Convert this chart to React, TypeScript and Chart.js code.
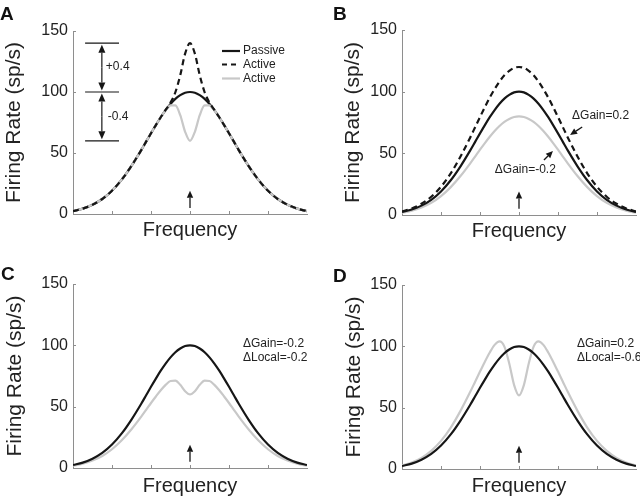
import React, { useEffect, useRef } from "react";
import { Chart, registerables } from "chart.js";
Chart.register(...registerables);

// Frequency sample positions (arbitrary units, best frequency at 3)
const FREQ = [0, 0.25, 0.5, 0.75, 1, 1.25, 1.5, 1.75, 1.875, 2, 2.125, 2.25, 2.375, 2.5, 2.625, 2.75, 2.875, 3,
  3.125, 3.25, 3.375, 3.5, 3.625, 3.75, 3.875, 4, 4.125, 4.25, 4.5, 4.75, 5, 5.25, 5.5, 5.75, 6];

// Passive tuning curve (all panels)
const PASSIVE = [2.4, 4.4, 7.6, 12.3, 19.1, 28.2, 39.5, 52.4, 59.3, 66.2, 72.9, 79.3, 85.1, 90.2, 94.4, 97.4, 99.4, 100,
  99.4, 97.4, 94.4, 90.2, 85.1, 79.3, 72.9, 66.2, 59.3, 52.4, 39.5, 28.2, 19.1, 12.3, 7.6, 4.4, 2.4];
// Panel A
const A_ACTIVE_UP = [2.4, 4.4, 7.6, 12.3, 19.1, 28.2, 39.5, 52.4, 59.3, 66.2, 72.9, 79.3, 85.3, 91.3, 99.8, 113.8, 131.4, 140,
  131.4, 113.8, 99.8, 91.3, 85.3, 79.3, 72.9, 66.2, 59.3, 52.4, 39.5, 28.2, 19.1, 12.3, 7.6, 4.4, 2.4];
const A_ACTIVE_DOWN = [2.4, 4.4, 7.6, 12.3, 19.1, 28.2, 39.5, 52.4, 59.3, 66.2, 72.9, 79.3, 85.0, 89.1, 89.0, 81.0, 67.4, 60,
  67.4, 81.0, 89.0, 89.1, 85.0, 79.3, 72.9, 66.2, 59.3, 52.4, 39.5, 28.2, 19.1, 12.3, 7.6, 4.4, 2.4];
// Panel B
const B_GAIN_UP = [2.9, 5.3, 9.1, 14.8, 22.9, 33.8, 47.4, 62.9, 71.2, 79.4, 87.5, 95.2, 102.1, 108.2, 113.3, 116.9, 119.3, 120,
  119.3, 116.9, 113.3, 108.2, 102.1, 95.2, 87.5, 79.4, 71.2, 62.9, 47.4, 33.8, 22.9, 14.8, 9.1, 5.3, 2.9];
const B_GAIN_DOWN = [1.9, 3.5, 6.1, 9.8, 15.3, 22.6, 31.6, 41.9, 47.4, 53.0, 58.3, 63.4, 68.1, 72.2, 75.5, 77.9, 79.5, 80,
  79.5, 77.9, 75.5, 72.2, 68.1, 63.4, 58.3, 53.0, 47.4, 41.9, 31.6, 22.6, 15.3, 9.8, 6.1, 3.5, 1.9];
// Panel C
const C_ACTIVE = [1.9, 3.5, 6.1, 9.8, 15.3, 22.6, 31.6, 41.9, 47.4, 53.0, 58.3, 63.4, 67.8, 70.9, 71.2, 67.8, 62.6, 60,
  62.6, 67.8, 71.2, 70.9, 67.8, 63.4, 58.3, 53.0, 47.4, 41.9, 31.6, 22.6, 15.3, 9.8, 6.1, 3.5, 1.9];
// Panel D
const D_ACTIVE = [2.9, 5.3, 9.1, 14.8, 22.9, 33.8, 47.4, 62.9, 71.2, 79.4, 87.5, 95.0, 101.2, 104.0, 99.8, 86.0, 68.4, 60,
  68.4, 86.0, 99.8, 104.0, 101.2, 95.0, 87.5, 79.4, 71.2, 62.9, 47.4, 33.8, 22.9, 14.8, 9.1, 5.3, 2.9];

const Y_TICKS = [0, 50, 100, 150];
const X_TICKS = [1, 2, 3, 4, 5];
const Y_TITLE = "Firing Rate (sp/s)";
const X_TITLE = "Frequency";
const LEGEND_A = ["Passive", "Active", "Active"];
const ANNOT_B = ["\u0394Gain=0.2", "\u0394Gain=-0.2"];
const ANNOT_C = ["\u0394Gain=-0.2", "\u0394Local=-0.2"];
const ANNOT_D = ["\u0394Gain=0.2", "\u0394Local=-0.6"];
const A_LEVELS = [140, 100, 60];
const A_LEVEL_LABELS = ["+0.4", "-0.4"];

const FONT = '"Liberation Sans", Arial, Helvetica, sans-serif';
const BLACK = "#161616";
const GRAY = "#c8c8c8";
const AXIS = "#8e8e8e";
const TEXT = "#222222";

type Series = { data: number[]; color: string; dash?: number[]; order: number };

function drawArrow(ctx: CanvasRenderingContext2D, x1: number, y1: number, x2: number, y2: number, hl = 7, hw = 3) {
  const ang = Math.atan2(y2 - y1, x2 - x1);
  const bx = x2 - hl * Math.cos(ang);
  const by = y2 - hl * Math.sin(ang);
  ctx.beginPath();
  ctx.moveTo(x1, y1);
  ctx.lineTo(bx, by);
  ctx.stroke();
  ctx.beginPath();
  ctx.moveTo(x2, y2);
  ctx.lineTo(bx + hw * Math.sin(ang), by - hw * Math.cos(ang));
  ctx.lineTo(bx - hw * Math.sin(ang), by + hw * Math.cos(ang));
  ctx.closePath();
  ctx.fill();
}

interface PanelCfg {
  key: string;
  left: number;
  top: number;
  padTop: number;
  padRight: number;
  yWidth: number;
  xHeight: number;
  yTitlePad: number;
  xTitlePad: number;
  letter: string;
  letterX: number;
  letterY: number;
  series: Series[];
  deco: (ctx: CanvasRenderingContext2D, X: (v: number) => number, Y: (v: number) => number) => void;
}

const centerArrow = (ctx: CanvasRenderingContext2D, X: (v: number) => number, Y: (v: number) => number) => {
  ctx.strokeStyle = BLACK;
  ctx.fillStyle = BLACK;
  ctx.lineWidth = 1.3;
  drawArrow(ctx, X(3), Y(5), X(3), Y(19), 7, 3.2);
};

const PANELS: PanelCfg[] = [
  {
    key: "A", left: 0, top: 0, padTop: 31, padRight: 13, yWidth: 73, xHeight: 35, yTitlePad: 2, xTitlePad: 7,
    letter: "A", letterX: 0, letterY: 20,
    series: [
      { data: PASSIVE, color: BLACK, order: 3 },
      { data: A_ACTIVE_UP, color: BLACK, dash: [6, 4], order: 1 },
      { data: A_ACTIVE_DOWN, color: GRAY, order: 2 },
    ],
    deco: (ctx, X, Y) => {
      centerArrow(ctx, X, Y);
      ctx.strokeStyle = BLACK;
      ctx.fillStyle = BLACK;
      ctx.lineWidth = 1.2;
      A_LEVELS.forEach((lv) => {
        ctx.beginPath();
        ctx.moveTo(X(0.31), Y(lv));
        ctx.lineTo(X(1.18), Y(lv));
        ctx.stroke();
      });
      const ax = X(0.74);
      for (let i = 0; i < 2; i++) {
        const yTop = Y(A_LEVELS[i]) + 1.5;
        const yBot = Y(A_LEVELS[i + 1]) - 1.5;
        const mid = (yTop + yBot) / 2;
        drawArrow(ctx, ax, mid, ax, yTop, 8, 3.5);
        drawArrow(ctx, ax, mid, ax, yBot, 8, 3.5);
      }
      ctx.font = `12px ${FONT}`;
      ctx.fillStyle = TEXT;
      ctx.textAlign = "left";
      ctx.textBaseline = "middle";
      ctx.fillText(A_LEVEL_LABELS[0], ax + 4, Y(121));
      ctx.fillText(A_LEVEL_LABELS[1], ax + 6, Y(79.5));
      // legend
      const rows = [51, 64.5, 78.5];
      const styles = [
        { c: BLACK, d: [] as number[] },
        { c: BLACK, d: [5, 4] },
        { c: GRAY, d: [] as number[] },
      ];
      rows.forEach((ry, i) => {
        ctx.strokeStyle = styles[i].c;
        ctx.lineWidth = 2.2;
        ctx.setLineDash(styles[i].d);
        ctx.beginPath();
        ctx.moveTo(222, ry);
        ctx.lineTo(240, ry);
        ctx.stroke();
        ctx.setLineDash([]);
        ctx.fillStyle = TEXT;
        ctx.fillText(LEGEND_A[i], 243, ry);
      });
    },
  },
  {
    key: "B", left: 320, top: 0, padTop: 30, padRight: 4, yWidth: 82, xHeight: 34, yTitlePad: 21, xTitlePad: 6,
    letter: "B", letterX: 13, letterY: 20,
    series: [
      { data: PASSIVE, color: BLACK, order: 2 },
      { data: B_GAIN_UP, color: BLACK, dash: [6, 4], order: 1 },
      { data: B_GAIN_DOWN, color: GRAY, order: 3 },
    ],
    deco: (ctx, X, Y) => {
      centerArrow(ctx, X, Y);
      ctx.lineWidth = 1.3;
      drawArrow(ctx, X(4.62), Y(71.4), X(4.31), Y(64.9), 7, 3.2);
      drawArrow(ctx, X(3.64), Y(44.6), X(3.87), Y(51.9), 7, 3.2);
      ctx.font = `12px ${FONT}`;
      ctx.fillStyle = TEXT;
      ctx.textAlign = "left";
      ctx.textBaseline = "middle";
      ctx.fillText(ANNOT_B[0], X(4.36), Y(80.3));
      ctx.fillText(ANNOT_B[1], X(2.38), Y(36.5));
    },
  },
  {
    key: "C", left: 0, top: 249, padTop: 35, padRight: 13, yWidth: 73, xHeight: 30, yTitlePad: 3, xTitlePad: 0,
    letter: "C", letterX: 1, letterY: 31,
    series: [
      { data: PASSIVE, color: BLACK, order: 1 },
      { data: C_ACTIVE, color: GRAY, order: 2 },
    ],
    deco: (ctx, X, Y) => {
      centerArrow(ctx, X, Y);
      ctx.font = `12px ${FONT}`;
      ctx.fillStyle = TEXT;
      ctx.textAlign = "left";
      ctx.textBaseline = "middle";
      ctx.fillText(ANNOT_C[0], 243, 95);
      ctx.fillText(ANNOT_C[1], 243, 109);
    },
  },
  {
    key: "D", left: 320, top: 249, padTop: 36, padRight: 4, yWidth: 82, xHeight: 29, yTitlePad: 22, xTitlePad: 0,
    letter: "D", letterX: 13, letterY: 33,
    series: [
      { data: PASSIVE, color: BLACK, order: 1 },
      { data: D_ACTIVE, color: GRAY, order: 2 },
    ],
    deco: (ctx, X, Y) => {
      centerArrow(ctx, X, Y);
      ctx.font = `12px ${FONT}`;
      ctx.fillStyle = TEXT;
      ctx.textAlign = "left";
      ctx.textBaseline = "middle";
      ctx.fillText(ANNOT_D[0], 257, 95);
      ctx.fillText(ANNOT_D[1], 257, 109);
    },
  },
];

function Panel({ cfg }: { cfg: PanelCfg }) {
  const ref = useRef<HTMLCanvasElement | null>(null);
  useEffect(() => {
    if (!ref.current) return;
    const decoPlugin = {
      id: "deco" + cfg.key,
      afterDraw(chart: any) {
        const ctx: CanvasRenderingContext2D = chart.ctx;
        const xs = chart.scales.x;
        const ys = chart.scales.y;
        const X = (v: number) => xs.getPixelForValue(v);
        const Y = (v: number) => ys.getPixelForValue(v);
        const area = chart.chartArea;
        ctx.save();
        // inward tick marks
        ctx.strokeStyle = AXIS;
        ctx.lineWidth = 1;
        X_TICKS.forEach((v) => {
          const px = Math.round(X(v)) + 0.5;
          ctx.beginPath();
          ctx.moveTo(px, area.bottom);
          ctx.lineTo(px, area.bottom - 3);
          ctx.stroke();
        });
        Y_TICKS.forEach((v) => {
          const py = Math.round(Y(v)) + 0.5;
          ctx.beginPath();
          ctx.moveTo(area.left, py);
          ctx.lineTo(area.left + 3, py);
          ctx.stroke();
        });
        // panel letter
        ctx.fillStyle = "#111";
        ctx.font = `bold 19px ${FONT}`;
        ctx.textAlign = "left";
        ctx.textBaseline = "alphabetic";
        ctx.fillText(cfg.letter, cfg.letterX, cfg.letterY);
        cfg.deco(ctx, X, Y);
        ctx.restore();
      },
    };
    const chart = new Chart(ref.current, {
      type: "line",
      data: {
        datasets: cfg.series.map((s) => ({
          data: FREQ.map((f, i) => ({ x: f, y: s.data[i] })),
          borderColor: s.color,
          borderWidth: 2.2,
          borderDash: s.dash || [],
          pointRadius: 0,
          fill: false,
          cubicInterpolationMode: "monotone" as const,
          order: s.order,
        })),
      },
      options: {
        animation: false,
        responsive: false,
        devicePixelRatio: 1,
        events: [],
        layout: { padding: { top: cfg.padTop, right: cfg.padRight, left: 0, bottom: 0 } },
        plugins: { legend: { display: false }, tooltip: { enabled: false } },
        scales: {
          x: {
            type: "linear",
            min: 0,
            max: 6,
            ticks: { display: false },
            grid: { display: false, drawTicks: false },
            border: { display: true, color: AXIS, width: 1 },
            title: {
              display: true,
              text: X_TITLE,
              color: TEXT,
              font: { family: FONT, size: 20 },
              padding: { top: 0, bottom: cfg.xTitlePad },
            },
            afterFit: (scale: any) => {
              scale.height = cfg.xHeight;
            },
          },
          y: {
            type: "linear",
            min: 0,
            max: 150,
            ticks: { stepSize: 50, color: TEXT, font: { family: FONT, size: 16 }, padding: 5 },
            grid: { display: false, drawTicks: false },
            border: { display: true, color: AXIS, width: 1 },
            title: {
              display: true,
              text: Y_TITLE,
              color: TEXT,
              font: { family: FONT, size: 21 },
              padding: { top: cfg.yTitlePad, bottom: 0 },
            },
            afterFit: (scale: any) => {
              scale.width = cfg.yWidth;
            },
          },
        },
      },
      plugins: [decoPlugin],
    } as any);
    return () => chart.destroy();
  }, [cfg]);
  return (
    <div style={{ position: "absolute", left: cfg.left, top: cfg.top, width: 320, height: 249 }}>
      <canvas ref={ref} width={320} height={249} style={{ width: 320, height: 249, display: "block" }} />
    </div>
  );
}

export default function App() {
  return (
    <div style={{ position: "absolute", left: 0, top: 0, width: 640, height: 498, background: "#fff", overflow: "hidden" }}>
      {PANELS.map((p) => (
        <Panel key={p.key} cfg={p} />
      ))}
    </div>
  );
}
